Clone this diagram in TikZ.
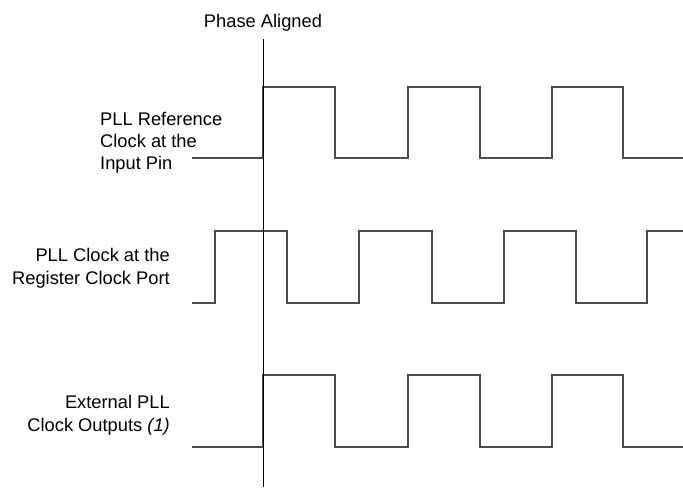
\documentclass[tikz,border=0pt]{standalone}
\usepackage{fontspec}
\setmainfont{Liberation Sans}
\begin{document}
\begin{tikzpicture}[x=1pt,y=-1pt,
	lbl/.style={inner sep=0pt,font=\fontsize{18.3}{22.3}\selectfont},
	wave/.style={draw=black!70,line width=1.2pt,line join=miter}]
	\useasboundingbox (0,0) rectangle (683,489);
	\node[lbl,anchor=base] (title) at (263,28) {Phase Aligned};
	\node[lbl,anchor=base west,align=left] (refclk) at (100,170) {PLL Reference\\
	Clock at the\\
	Input Pin};
	\node[lbl,anchor=base east,align=right] (regclk) at (170,284) {PLL Clock at the\\
	Register Clock Port};
	\node[lbl,anchor=base east,align=right] (extclk) at (170,431) {External PLL\\
	Clock Outputs \textit{(1)}};
	\coordinate (top) at (263.3,39);
	\coordinate (bot) at (263.3,487);
	\draw[wave] (192,158) -- (263,158) -- (263,87) -- (335,87) -- (335,158) -- (408,158) -- (408,87) -- (480,87) -- (480,158) -- (552,158) -- (552,87) -- (623,87) -- (623,158) -- (683,158);
	\draw[wave] (192,303) -- (215,303) -- (215,231) -- (287,231) -- (287,303) -- (359,303) -- (359,231) -- (432,231) -- (432,303) -- (504,303) -- (504,231) -- (576,231) -- (576,303) -- (647,303) -- (647,231) -- (683,231);
	\draw[wave] (192,447) -- (263,447) -- (263,375) -- (335,375) -- (335,447) -- (408,447) -- (408,375) -- (480,375) -- (480,447) -- (552,447) -- (552,375) -- (623,375) -- (623,447) -- (683,447);
	\draw[line width=1pt] (top) -- (bot);
\end{tikzpicture}
\end{document}
